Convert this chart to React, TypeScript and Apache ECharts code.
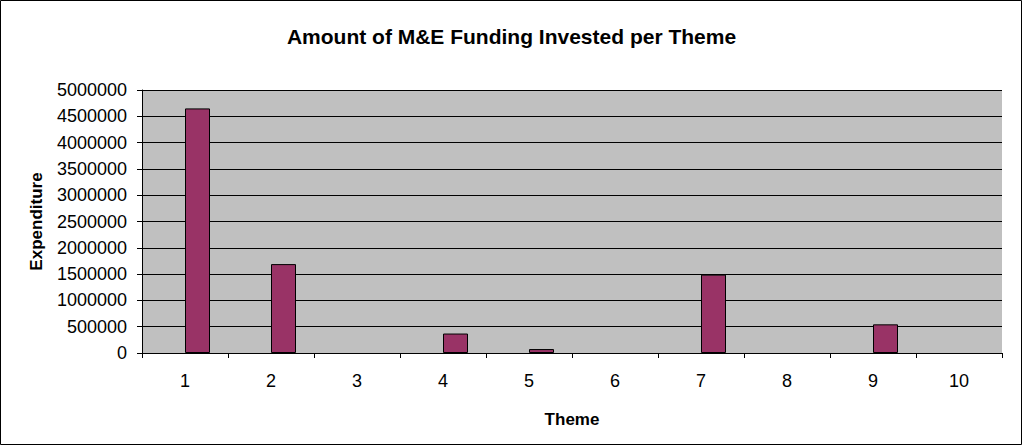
import React, { useEffect, useRef } from "react";
import * as echarts from "echarts";

const categories = ["1", "2", "3", "4", "5", "6", "7", "8", "9", "10"];
const expenditure = [4650000, 1690000, 0, 370000, 75000, 0, 1490000, 0, 545000, 0];
const placeholder = [null, null, null, null, null, null, null, null, null, null];
const titleText = "Amount of M&E Funding Invested per Theme";
const yName = "Expenditure";
const xName = "Theme";

const FONT = "Liberation Sans, Arial, sans-serif";

export default function App() {
  const ref = useRef<HTMLDivElement>(null);
  useEffect(() => {
    if (!ref.current) return;
    const chart = echarts.init(ref.current, null, { renderer: "svg" });
    chart.setOption({
      animation: false,
      backgroundColor: "#ffffff",
      textStyle: { fontFamily: FONT },
      title: {
        text: titleText,
        left: "center",
        top: 21,
        textStyle: { fontSize: 21, fontWeight: "bold", color: "#000", fontFamily: FONT },
      },
      graphic: [
        {
          type: "rect",
          shape: { x: 0.5, y: 0.5, width: 1021, height: 444 },
          style: { fill: "none", stroke: "#000", lineWidth: 1 },
          silent: true,
        },
      ],
      grid: { left: 142, right: 21, top: 90, bottom: 93, backgroundColor: "#C0C0C0", show: true, borderWidth: 0 },
      xAxis: {
        type: "category",
        data: categories,
        name: xName,
        nameLocation: "middle",
        nameGap: 58,
        nameTextStyle: { fontSize: 17, fontWeight: "bold", color: "#000" },
        axisLine: { lineStyle: { color: "#000", width: 1 } },
        axisTick: { show: true, length: 5, lineStyle: { color: "#000" } },
        axisLabel: { fontSize: 18, color: "#000", margin: 19 },
      },
      yAxis: {
        type: "value",
        min: 0,
        max: 5000000,
        interval: 500000,
        name: yName,
        nameLocation: "middle",
        nameGap: 97,
        nameTextStyle: { fontSize: 17, fontWeight: "bold", color: "#000" },
        axisLine: { show: true, lineStyle: { color: "#000", width: 1 } },
        axisTick: { show: true, length: 5, lineStyle: { color: "#000" } },
        axisLabel: { fontSize: 18, color: "#000", margin: 15, formatter: (v: number) => String(v) },
        splitLine: { show: true, lineStyle: { color: "#000", width: 1 } },
      },
      series: [
        {
          type: "bar",
          data: placeholder,
          barWidth: 25,
          barGap: "0%",
        },
        {
          type: "bar",
          data: expenditure.map((v) => (v === 0 ? null : v)),
          barWidth: 25,
          barGap: "0%",
          itemStyle: { color: "#993366", borderColor: "#000", borderWidth: 1 },
        },
      ],
    });
    return () => chart.dispose();
  }, []);
  return (
    <div
      ref={ref}
      style={{ position: "fixed", left: 0, top: 0, width: 1023, height: 446 }}
    />
  );
}
